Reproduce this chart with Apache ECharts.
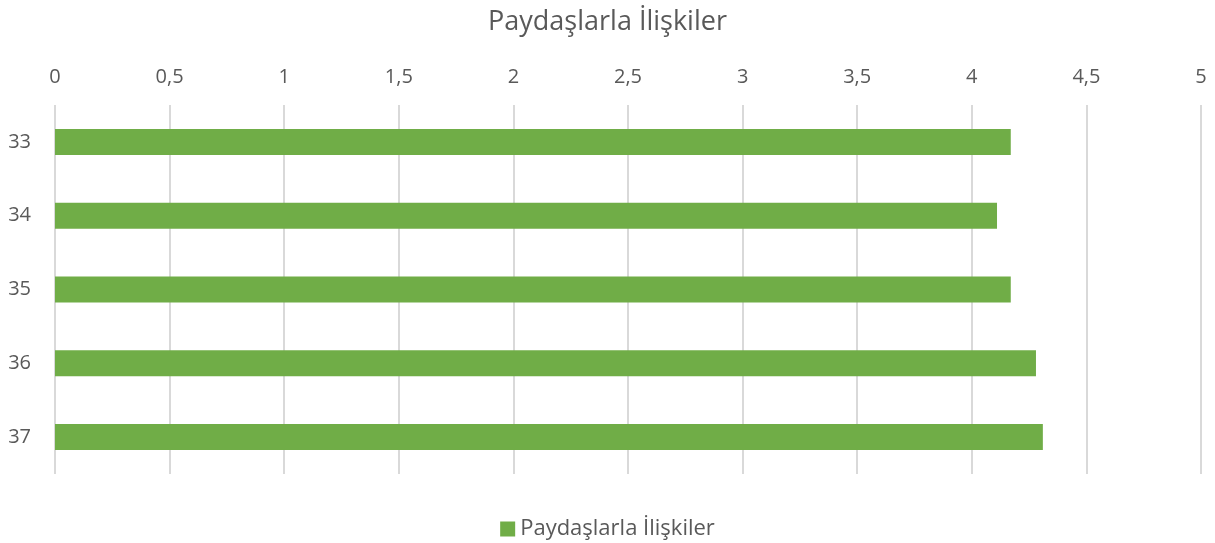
<!DOCTYPE html>
<html>
<head>
<meta charset="utf-8">
<script src="https://cdn.jsdelivr.net/npm/echarts@6/dist/echarts.min.js"></script>
<style>
  html, body { margin: 0; padding: 0; background: #fff; }
  #chart { width: 1215px; height: 543px; }
</style>
</head>
<body>
<div id="chart"></div>
<script>
// veriler
const categories = ['33', '34', '35', '36', '37'];
const values = [4.17, 4.11, 4.17, 4.28, 4.31];
const seriesName = 'Paydaşlarla İlişkiler';

const myChart = echarts.init(document.getElementById('chart'));
const fontFamily = '"Open Sans", "Noto Sans", sans-serif';

const option = {
  textStyle: { fontFamily: fontFamily },
  title: {
    text: 'Paydaşlarla İlişkiler',
    left: 'center',
    top: 4,
    textStyle: { fontSize: 27, fontWeight: 'normal', color: '#595959', fontFamily: fontFamily }
  },
  legend: {
    bottom: -2,
    left: 'center',
    itemWidth: 15,
    itemHeight: 15,
    itemGap: 6,
    icon: 'rect',
    textStyle: { fontSize: 22, color: '#595959', fontFamily: fontFamily }
  },
  grid: {
    left: 55,
    right: 14,
    top: 105,
    bottom: 69
  },
  xAxis: {
    type: 'value',
    position: 'top',
    min: 0,
    max: 5,
    interval: 0.5,
    axisLine: { show: false },
    axisTick: { show: false },
    axisLabel: {
      fontSize: 20,
      color: '#595959',
      margin: 18,
      formatter: v => String(v).replace('.', ',')
    },
    splitLine: { show: true, lineStyle: { color: '#d9d9d9', width: 2 } }
  },
  yAxis: {
    type: 'category',
    data: categories,
    inverse: true,
    axisLine: { show: false },
    axisTick: { show: false },
    axisLabel: { fontSize: 20, color: '#595959', margin: 24 }
  },
  series: [
    {
      name: seriesName,
      type: 'bar',
      data: values,
      barWidth: 26,
      itemStyle: { color: '#70ad47' }
    }
  ]
};
myChart.setOption(option);
</script>
</body>
</html>
